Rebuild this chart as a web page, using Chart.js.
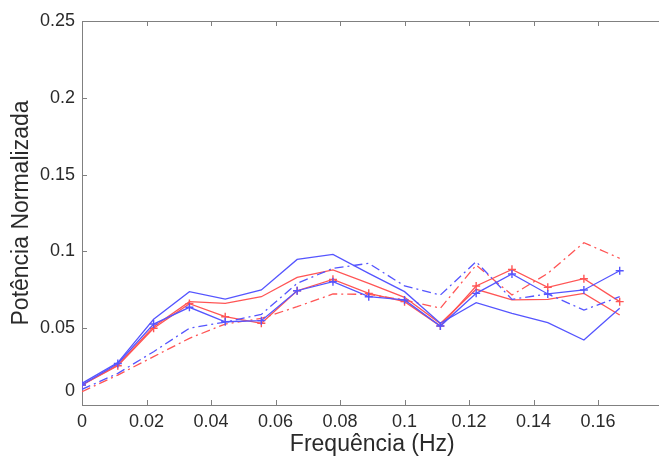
<!DOCTYPE html>
<html>
<head>
<meta charset="utf-8">
<script src="https://cdn.jsdelivr.net/npm/chart.js@4"></script>
<style>
  html, body { margin: 0; padding: 0; background: #fff; overflow: hidden; }
  #wrap { width: 659px; height: 459px; overflow: hidden; }
</style>
</head>
<body>
<div id="wrap"><canvas id="powerChart" width="668" height="459"></canvas></div>
<script>
const freqs = [0, 0.0111, 0.0222, 0.0333, 0.0444, 0.0556, 0.0667, 0.0778, 0.0889, 0.1, 0.1111, 0.1222, 0.1333, 0.1444, 0.1556, 0.1667];

const blueSolid = [0.0141, 0.0276, 0.0558, 0.0738, 0.069, 0.0749, 0.0948, 0.0981, 0.0857, 0.0738, 0.0532, 0.0666, 0.0597, 0.0536, 0.0423, 0.063];
const blueCross = [0.013, 0.027, 0.0527, 0.0636, 0.0542, 0.0549, 0.0744, 0.0803, 0.0705, 0.0684, 0.0514, 0.0727, 0.0853, 0.0723, 0.0749, 0.0874];
const blueDashDot = [0.0102, 0.0206, 0.0347, 0.05, 0.054, 0.059, 0.0792, 0.089, 0.0922, 0.0775, 0.0716, 0.0933, 0.0688, 0.0723, 0.0618, 0.0705];
const redSolid = [0.013, 0.026, 0.051, 0.0673, 0.0662, 0.0705, 0.0831, 0.0879, 0.0792, 0.0701, 0.053, 0.0753, 0.0684, 0.0688, 0.0727, 0.0586];
const redCross = [0.013, 0.0256, 0.05, 0.066, 0.0575, 0.0532, 0.0744, 0.0818, 0.0727, 0.0673, 0.0514, 0.0775, 0.0883, 0.0766, 0.0822, 0.0673];
const redDashDot = [0.0087, 0.0195, 0.0315, 0.0434, 0.0527, 0.0564, 0.064, 0.0723, 0.072, 0.0684, 0.063, 0.0911, 0.0716, 0.0857, 0.1057, 0.0955];

const xTicks = [0, 0.02, 0.04, 0.06, 0.08, 0.1, 0.12, 0.14, 0.16];
const yTicks = [0, 0.05, 0.1, 0.15, 0.2, 0.25];

const BLUE = "rgb(85,85,255)";
const RED = "rgb(255,85,85)";
const DASH_DOT = [9, 4, 2, 4];
const FONT = "'Liberation Sans', Arial, sans-serif";
const TEXT = "#2a2a2a";

function toPoints(values) {
  return values.map((v, i) => ({ x: freqs[i], y: v }));
}

function makeSet(label, values, color, dashed, cross) {
  return {
    label: label,
    data: toPoints(values),
    borderColor: color,
    backgroundColor: color,
    borderWidth: 1.3,
    borderDash: dashed ? DASH_DOT : [],
    pointStyle: "cross",
    pointRadius: cross ? 4 : 0,
    pointBorderWidth: 1.4,
    tension: 0,
    fill: false,
  };
}

// MATLAB style box with ticks pointing inwards
const framePlugin = {
  id: "frame",
  beforeDatasetsDraw(chart) {
    const { ctx, chartArea: a, scales } = chart;
    ctx.save();
    ctx.strokeStyle = "#808080";
    ctx.lineWidth = 1;
    ctx.strokeRect(a.left + 0.5, a.top + 0.5, a.right - a.left, a.bottom - a.top);
    ctx.beginPath();
    xTicks.forEach((t) => {
      const px = Math.round(scales.x.getPixelForValue(t)) + 0.5;
      ctx.moveTo(px, a.bottom);
      ctx.lineTo(px, a.bottom - 5);
      ctx.moveTo(px, a.top);
      ctx.lineTo(px, a.top + 5);
    });
    yTicks.forEach((t) => {
      const py = Math.round(scales.y.getPixelForValue(t)) + 0.5;
      ctx.moveTo(a.left, py);
      ctx.lineTo(a.left + 5, py);
    });
    ctx.stroke();

    // the y "0" sits a bit above the corner, like in matlab
    ctx.fillStyle = TEXT;
    ctx.font = "18px " + FONT;
    ctx.textAlign = "right";
    ctx.textBaseline = "middle";
    ctx.fillText("0", a.left - 7, scales.y.getPixelForValue(0) - 14);
    ctx.restore();
  },
};

const fmt = (v) => String(parseFloat(Number(v).toFixed(2)));

new Chart(document.getElementById("powerChart"), {
  type: "line",
  data: {
    datasets: [
      makeSet("azul", blueSolid, BLUE, false, false),
      makeSet("azul +", blueCross, BLUE, false, true),
      makeSet("azul -.", blueDashDot, BLUE, true, false),
      makeSet("vermelho", redSolid, RED, false, false),
      makeSet("vermelho +", redCross, RED, false, true),
      makeSet("vermelho -.", redDashDot, RED, true, false),
    ],
  },
  options: {
    responsive: false,
    animation: false,
    layout: { padding: { top: 21, right: 1, left: 0, bottom: 0 } },
    plugins: {
      legend: { display: false },
      tooltip: { enabled: false },
    },
    scales: {
      x: {
        type: "linear",
        min: 0,
        max: 0.18,
        afterFit: (s) => { s.height = 54; },
        afterBuildTicks: (s) => { s.ticks = xTicks.map((v) => ({ value: v })); },
        grid: { display: false, drawTicks: false },
        border: { display: false },
        ticks: {
          autoSkip: false,
          maxRotation: 0,
          padding: 6,
          color: TEXT,
          font: { family: FONT, size: 18 },
          callback: (v) => fmt(v),
        },
        title: {
          display: true,
          text: "Frequência (Hz)",
          color: TEXT,
          padding: { top: 0, bottom: 1 },
          font: { family: FONT, size: 23 },
        },
      },
      y: {
        min: 0,
        max: 0.25,
        afterFit: (s) => { s.width = 82; },
        afterBuildTicks: (s) => { s.ticks = yTicks.map((v) => ({ value: v })); },
        grid: { display: false, drawTicks: false },
        border: { display: false },
        ticks: {
          padding: 7,
          color: TEXT,
          font: { family: FONT, size: 18 },
          callback: (v) => (v === 0 ? "" : fmt(v)),
        },
        title: {
          display: true,
          text: "Potência Normalizada",
          color: TEXT,
          padding: { top: 8, bottom: 0 },
          font: { family: FONT, size: 23 },
        },
      },
    },
  },
  plugins: [framePlugin],
});
</script>
</body>
</html>
